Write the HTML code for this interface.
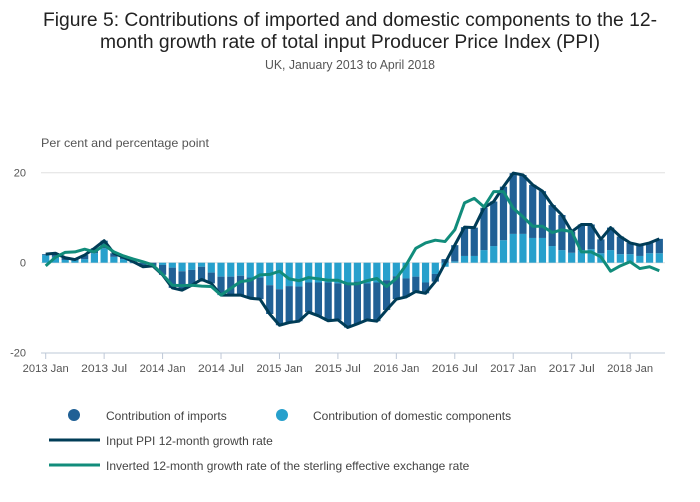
<!DOCTYPE html>
<html><head><meta charset="utf-8"><style>
body{margin:0;background:#fff;}
svg{display:block;font-family:"Liberation Sans",sans-serif;}
</style></head><body>
<svg id="chart" width="700" height="502" viewBox="0 0 700 502" xmlns="http://www.w3.org/2000/svg">
<text x="350" y="26" text-anchor="middle" font-size="19" fill="#222" textLength="614" lengthAdjust="spacingAndGlyphs">Figure 5: Contributions of imported and domestic components to the 12-</text>
<text x="350" y="48" text-anchor="middle" font-size="19" fill="#222" textLength="500" lengthAdjust="spacingAndGlyphs">month growth rate of total input Producer Price Index (PPI)</text>
<text x="350" y="69" text-anchor="middle" font-size="13" fill="#555" textLength="170" lengthAdjust="spacingAndGlyphs">UK, January 2013 to April 2018</text>
<text x="41" y="147" font-size="12" fill="#555" textLength="168" lengthAdjust="spacingAndGlyphs">Per cent and percentage point</text>
<g id="grid"></g><g id="bars"></g><g id="lines"></g><g id="axes"></g>
<g>
<circle cx="74" cy="415" r="6" fill="#206095"/>
<text x="106" y="420" font-size="12" fill="#444">Contribution of imports</text>
<circle cx="282" cy="415" r="6" fill="#27a0cc"/>
<text x="313" y="420" font-size="12" fill="#444">Contribution of domestic components</text>
<line x1="49" y1="440" x2="100" y2="440" stroke="#003c57" stroke-width="3"/>
<text x="106" y="445" font-size="12" fill="#444">Input PPI 12-month growth rate</text>
<line x1="49" y1="465" x2="100" y2="465" stroke="#118c7b" stroke-width="3"/>
<text x="106" y="470" font-size="12" fill="#444">Inverted 12-month growth rate of the sterling effective exchange rate</text>
</g>
</svg>
<script>
const total=[1.9,2.1,1.1,0.7,1.7,3.2,4.9,2.1,1.2,0.2,-0.9,-0.7,-2.7,-5.6,-6.1,-5.0,-3.7,-4.6,-7.2,-7.2,-7.2,-7.9,-8.1,-11.4,-13.9,-13.3,-13.0,-11.0,-11.8,-12.9,-12.7,-14.4,-13.6,-12.7,-13.0,-10.5,-8.1,-7.6,-6.4,-6.8,-4.2,-0.1,3.9,7.9,7.8,12.2,13.6,16.9,19.9,19.5,17.3,15.9,12.8,10.6,6.9,8.5,8.5,5.2,7.8,5.8,4.4,3.9,4.4,5.3];
const domestic=[1.7,1.3,0.6,0.5,0.8,2.1,3.2,1.3,0.8,0.3,0,0,-0.5,-1.1,-1.9,-1.6,-0.9,-2.2,-3.1,-3.1,-2.9,-3.3,-3.3,-5.0,-5.9,-5.2,-5.3,-4.4,-4.4,-4.4,-4.6,-4.4,-4.2,-4.6,-4.4,-3.9,-3.0,-3.5,-3.1,-4.4,-2.5,-0.9,0.3,1.5,1.5,2.8,3.7,5.0,6.4,6.4,5.5,5.5,3.7,2.8,2.2,2.8,3.0,2.1,2.8,1.9,1.9,1.5,2.1,2.1];
const sterling=[-0.7,1.2,2.3,2.4,3.0,2.4,3.9,2.4,1.5,0.8,0.2,-0.5,-2.6,-5.0,-5.1,-5.0,-5.2,-5.3,-7.2,-5.7,-4.2,-3.9,-2.7,-2.6,-1.9,-3.6,-4.0,-3.3,-3.6,-3.9,-3.9,-4.7,-4.7,-4.0,-3.5,-5.3,-3.5,-0.5,3.2,4.4,5.0,4.7,7.3,13.3,14.3,12.4,15.8,15.8,12.1,10.2,8.1,8.1,6.7,7.3,6.9,2.4,2.4,1.3,-1.9,-0.7,0.2,-1.3,-0.9,-1.8];
const yTicks=[20,0,-20];
const xTickLabels=["2013 Jan","2013 Jul","2014 Jan","2014 Jul","2015 Jan","2015 Jul","2016 Jan","2016 Jul","2017 Jan","2017 Jul","2018 Jan"];
const NS="http://www.w3.org/2000/svg";
const x=i=>45.7+i*9.74;
const y=v=>262.7-v*4.5;
function mk(tag,parent,attrs){const e=document.createElementNS(NS,tag);for(const k in attrs)e.setAttribute(k,attrs[k]);document.getElementById(parent).appendChild(e);return e;}
yTicks.forEach(t=>{
  const g=mk('line','grid',{x1:41,x2:665,y1:y(t),y2:y(t),stroke:t===-20?'none':'#e0e0e0','stroke-width':1});
  
  
  const l=mk('text','axes',{x:26,y:y(t)+4,'text-anchor':'end','font-size':11,fill:'#555'});
  l.textContent=t;
  
  
});
const ax=mk('line','axes',{x1:41,x2:665,y1:353,y2:353,stroke:'#bec8d7','stroke-width':1});


xTickLabels.forEach((s,k)=>{
  const xx=x(k*6);
  const t=mk('line','axes',{x1:xx,x2:xx,y1:353,y2:359,stroke:'#bec8d7'});
  
  
  const l=mk('text','axes',{x:xx,y:372,'text-anchor':'middle','font-size':11,fill:'#555',textLength:46,lengthAdjust:'spacingAndGlyphs'});
  l.textContent=s;
  
  
});
const bw=7.2;
total.forEach((tv,i)=>{
  const d=domestic[i], im=tv-d;
  let pos=0,neg=0;
  [[d,'#27a0cc','bar-domestic'],[im,'#206095','bar-imports']].forEach(([v,c,n])=>{
    let y0,y1;
    if(v>=0){y0=y(pos+v);y1=y(pos);pos+=v;}else{y0=y(neg);y1=y(neg+v);neg+=v;}
    const r=mk('rect','bars',{x:x(i)-bw/2,y:y0,width:bw,height:Math.max(0,y1-y0),fill:c});
    
    
  });
});
function line(arr,col,name){
  const p=mk('polyline','lines',{points:arr.map((v,i)=>x(i)+','+y(v)).join(' '),fill:'none',stroke:col,'stroke-width':3,'stroke-linejoin':'round'});
  
  
}
line(total,'#003c57','ppi-growth-line');
line(sterling,'#118c7b','sterling-inverted-line');
</script>
</body></html>
